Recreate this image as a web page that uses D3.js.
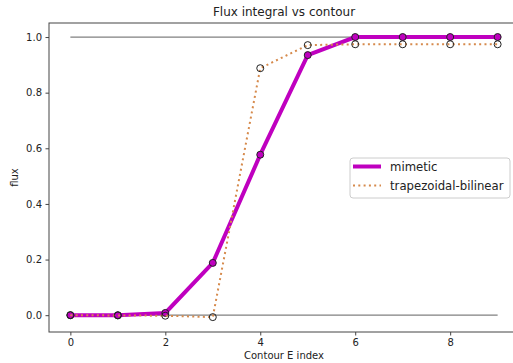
<!DOCTYPE html>
<html>
<head>
<meta charset="utf-8">
<script src="https://cdn.jsdelivr.net/npm/d3@7"></script>
<style>
  body { margin: 0; background: #fff; }
  text { font-family: "DejaVu Sans", sans-serif; }
</style>
</head>
<body>
<svg width="513" height="363"></svg>
<script>
// contour index and flux values
var index = [0, 1, 2, 3, 4, 5, 6, 7, 8, 9];
var mimetic = [0.0, 0.0, 0.008, 0.188, 0.577, 0.935, 1.0, 1.0, 1.0, 1.0];
var trapezoidal = [0.0, -0.001, -0.002, -0.007, 0.888, 0.971, 0.974, 0.974, 0.974, 0.974];
var xTicks = [0, 2, 4, 6, 8];
var yTicks = [0.0, 0.2, 0.4, 0.6, 0.8, 1.0];
var refLines = [0, 1];

var svg = d3.select("svg"),
    margin = {top: 23, right: -6, bottom: 31, left: 49},
    width = +svg.attr("width") - margin.left - margin.right,
    height = +svg.attr("height") - margin.top - margin.bottom;

var x = d3.scaleLinear().domain([-0.45, 9.45]).range([margin.left, margin.left + width]);
var y = d3.scaleLinear().domain([-0.0605, 1.0505]).range([margin.top + height, margin.top]);

// reference lines at 0 and 1
svg.selectAll("line.ref")
  .data(refLines)
  .enter().append("line")
    .attr("class", "ref")
    .attr("x1", x(0)).attr("x2", x(9))
    .attr("y1", function(d) { return y(d); })
    .attr("y2", function(d) { return y(d); })
    .attr("stroke", "#808080")
    .attr("stroke-width", 1.2);

var line = function(vals) {
  return d3.line()
    .x(function(d, i) { return x(index[i]); })
    .y(function(d) { return y(d); })(vals);
};

svg.append("path")
    .attr("d", line(mimetic))
    .attr("fill", "none")
    .attr("stroke", "#bf00bf")
    .attr("stroke-width", 4);

svg.selectAll("circle.mim")
  .data(mimetic)
  .enter().append("circle")
    .attr("class", "mim")
    .attr("cx", function(d, i) { return x(index[i]); })
    .attr("cy", function(d) { return y(d); })
    .attr("r", 3.5)
    .attr("fill", "#bf00bf")
    .attr("stroke", "#222")
    .attr("stroke-width", 1);

svg.append("path")
    .attr("d", line(trapezoidal))
    .attr("fill", "none")
    .attr("stroke", "#d68a4c")
    .attr("stroke-width", 2)
    .attr("stroke-dasharray", "2,3.3");

svg.selectAll("circle.trap")
  .data(trapezoidal)
  .enter().append("circle")
    .attr("class", "trap")
    .attr("cx", function(d, i) { return x(index[i]); })
    .attr("cy", function(d) { return y(d); })
    .attr("r", 3.5)
    .attr("fill", "none")
    .attr("stroke", "#222")
    .attr("stroke-width", 1);

// axes
var xAxis = svg.append("g")
    .attr("transform", "translate(0," + (margin.top + height) + ")")
    .call(d3.axisBottom(x).tickValues(xTicks).tickSize(3.5).tickPadding(3.5).tickFormat(d3.format("d")));
var yAxis = svg.append("g")
    .attr("transform", "translate(" + margin.left + ",0)")
    .call(d3.axisLeft(y).tickValues(yTicks).tickSize(3.5).tickPadding(3.5).tickFormat(d3.format(".1f")));
[xAxis, yAxis].forEach(function(g) {
  g.selectAll("text").attr("font-size", 10).attr("fill", "#222").attr("font-family", "DejaVu Sans");
  g.selectAll("line").attr("stroke", "#444");
  g.select(".domain").remove();
});

// frame
svg.append("rect")
    .attr("x", margin.left).attr("y", margin.top)
    .attr("width", width).attr("height", height)
    .attr("fill", "none").attr("stroke", "#444").attr("stroke-width", 1);

svg.append("text")
    .attr("x", margin.left + width / 2).attr("y", 16)
    .attr("text-anchor", "middle").attr("font-size", 12).attr("fill", "#222")
    .text("Flux integral vs contour");

svg.append("text")
    .attr("x", margin.left + width / 2).attr("y", 359)
    .attr("text-anchor", "middle").attr("font-size", 10).attr("fill", "#222")
    .text("Contour E index");

svg.append("text")
    .attr("transform", "translate(18," + (margin.top + height / 2) + ") rotate(-90)")
    .attr("text-anchor", "middle").attr("font-size", 10).attr("fill", "#222")
    .text("flux");

// legend
var legend = svg.append("g").attr("transform", "translate(350,158)");
legend.append("rect")
    .attr("width", 160).attr("height", 40).attr("rx", 3)
    .attr("fill", "#fff").attr("fill-opacity", 0.8)
    .attr("stroke", "#ccc").attr("stroke-width", 1);
var entries = [
  {label: "mimetic", color: "#bf00bf", width: 4, dash: null},
  {label: "trapezoidal-bilinear", color: "#d68a4c", width: 2, dash: "2,3.3"}
];
entries.forEach(function(e, i) {
  var cy = 8.5 + i * 19;
  legend.append("line")
      .attr("x1", 3).attr("x2", 31).attr("y1", cy).attr("y2", cy)
      .attr("stroke", e.color).attr("stroke-width", e.width)
      .attr("stroke-dasharray", e.dash);
  legend.append("text")
      .attr("x", 40).attr("y", cy + 4.3)
      .attr("font-size", 11.7).attr("fill", "#222")
      .text(e.label);
});
</script>
</body>
</html>
